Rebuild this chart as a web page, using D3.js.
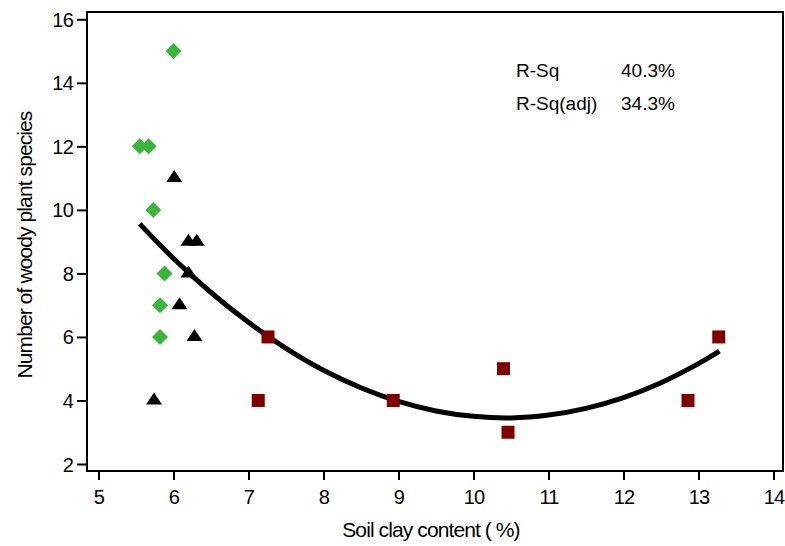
<!DOCTYPE html>
<html>
<head>
<meta charset="utf-8">
<script src="https://cdn.jsdelivr.net/npm/d3@7"></script>
<style>
  body { margin: 0; background: #fff; }
  svg text { font-family: "Liberation Sans", Arial, sans-serif; fill: #000; }
</style>
</head>
<body>
<svg id="chart" width="785" height="546"></svg>
<script>
// green diamonds
var diamondX = [6.0, 5.55, 5.67, 5.73, 5.88, 5.82, 5.82];
var diamondY = [15, 12, 12, 10, 8, 7, 6];
// black triangles
var triangleX = [6.01, 6.2, 6.31, 6.2, 6.08, 6.28, 5.74];
var triangleY = [11, 9, 9, 8, 7, 6, 4];
// dark red squares
var squareX = [7.13, 7.26, 8.93, 10.4, 10.46, 12.86, 13.27];
var squareY = [4, 6, 4, 5, 3, 4, 6];
// fitted curve
var fitX = [5.55, 6, 6.5, 7, 7.5, 8, 8.5, 9, 9.5, 10, 10.5, 11, 11.5, 12, 12.5, 13, 13.28];
var fitY = [9.56, 8.47, 7.40, 6.46, 5.64, 4.95, 4.40, 3.97, 3.67, 3.50, 3.45, 3.54, 3.75, 4.09, 4.56, 5.16, 5.55];

var xTicks = [5, 6, 7, 8, 9, 10, 11, 12, 13, 14];
var yTicks = [2, 4, 6, 8, 10, 12, 14, 16];
var statLabels = ["R-Sq", "R-Sq(adj)"];
var statValues = ["40.3%", "34.3%"];

var svg = d3.select("#chart");
var plotLeft = 87, plotRight = 783, plotTop = 12, plotBottom = 471;

var x = d3.scaleLinear().domain([5, 14]).range([98.5, 773.5]);
var y = d3.scaleLinear().domain([2, 16]).range([464, 19.3]);

// frame
svg.append("rect")
    .attr("x", plotLeft).attr("y", plotTop)
    .attr("width", plotRight - plotLeft).attr("height", plotBottom - plotTop)
    .attr("fill", "none").attr("stroke", "#000").attr("stroke-width", 2);

var yAxis = svg.append("g")
    .attr("transform", "translate(" + plotLeft + ",0)")
    .call(d3.axisLeft(y).tickValues(yTicks).tickSize(10).tickPadding(4).tickFormat(d3.format("d")));
yAxis.select(".domain").remove();
yAxis.selectAll("line").attr("stroke-width", 2);
yAxis.selectAll("text")
    .style("font-size", "20px")
    .style("letter-spacing", "-0.8px")
    .attr("dy", "0.35em");

var xAxis = svg.append("g")
    .attr("transform", "translate(0," + plotBottom + ")")
    .call(d3.axisBottom(x).tickValues(xTicks).tickSize(9).tickPadding(10).tickFormat(d3.format("d")));
xAxis.select(".domain").remove();
xAxis.selectAll("line").attr("stroke-width", 2);
xAxis.selectAll("text")
    .style("font-size", "20px")
    .style("letter-spacing", "-0.8px");

// axis titles
svg.append("text")
    .attr("x", 431).attr("y", 537)
    .attr("text-anchor", "middle")
    .style("font-size", "21px")
    .style("letter-spacing", "-0.9px")
    .text("Soil clay content ( %)");

svg.append("text")
    .attr("transform", "translate(32,245) rotate(-90)")
    .attr("text-anchor", "middle")
    .style("font-size", "21px")
    .style("letter-spacing", "-0.9px")
    .text("Number of woody plant species");

// fitted curve
var fitData = fitX.map((d, i) => [d, fitY[i]]);
svg.append("path")
    .datum(fitData)
    .attr("d", d3.line().x(d => x(d[0])).y(d => y(d[1])).curve(d3.curveCatmullRom))
    .attr("fill", "none")
    .attr("stroke", "#000")
    .attr("stroke-width", 5);

// markers
svg.append("g").selectAll("path")
    .data(diamondX.map((d, i) => [d, diamondY[i]]))
    .enter().append("path")
    .attr("transform", d => "translate(" + x(d[0]) + "," + y(d[1]) + ")")
    .attr("d", "M0,-8L8,0L0,8L-8,0Z")
    .attr("fill", "#3cb43c");

svg.append("g").selectAll("path")
    .data(triangleX.map((d, i) => [d, triangleY[i]]))
    .enter().append("path")
    .attr("transform", d => "translate(" + x(d[0]) + "," + (y(d[1]) - 1) + ")")
    .attr("d", "M-8,5L8,5L0,-7Z")
    .attr("fill", "#000");

svg.append("g").selectAll("rect")
    .data(squareX.map((d, i) => [d, squareY[i]]))
    .enter().append("rect")
    .attr("x", d => x(d[0]) - 6.5)
    .attr("y", d => y(d[1]) - 6.5)
    .attr("width", 13).attr("height", 13)
    .attr("fill", "#7f0000");

// statistics
var stats = svg.append("g");
stats.selectAll(".lab")
    .data(statLabels)
    .enter().append("text")
    .attr("class", "lab")
    .attr("x", 516)
    .attr("y", (d, i) => 77 + i * 33)
    .style("font-size", "19px")
    .text(d => d);
stats.selectAll(".val")
    .data(statValues)
    .enter().append("text")
    .attr("class", "val")
    .attr("x", 621)
    .attr("y", (d, i) => 77 + i * 33)
    .style("font-size", "19px")
    .text(d => d);
</script>
</body>
</html>
